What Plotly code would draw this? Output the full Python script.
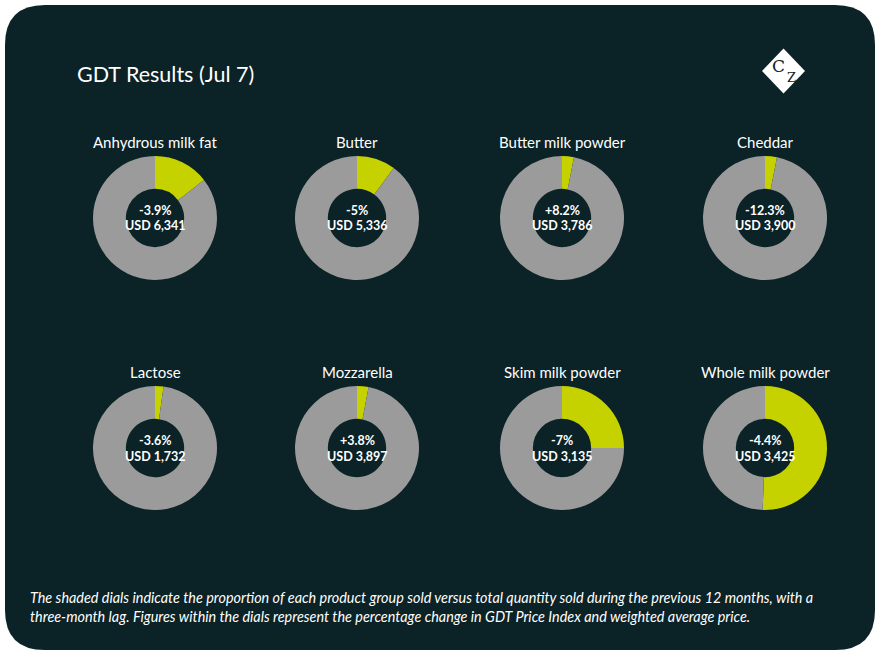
import plotly.graph_objects as go

W, H = 880, 655

# Données
products = [
    "Anhydrous milk fat", "Butter", "Butter milk powder", "Cheddar",
    "Lactose", "Mozzarella", "Skim milk powder", "Whole milk powder",
]
share_sold = [14.5, 10.1, 3.1, 3.1, 2.2, 3.0, 25.0, 50.6]  # % du volume vendu
price_change = [-3.9, -5, 8.2, -12.3, -3.6, 3.8, -7, -4.4]  # % GDT Price Index
avg_price = [6341, 5336, 3786, 3900, 1732, 3897, 3135, 3425]  # USD

BG = "#0b2226"
LIME = "#c5d200"
GREY = "#9b9b9b"
FONT = "Lato"

col_x = [155, 357, 562, 765]
row_y = [218, 448]
R = 62


def px_x(x):
    return x / W


def px_y(y):
    return 1 - y / H


def rounded_rect(x0, y0, x1, y1, r):
    # chemin en coordonnées papier
    rx, ry = r / W, r / H
    a, b, c, d = px_x(x0), px_y(y1), px_x(x1), px_y(y0)
    return (
        f"M {a + rx},{b} L {c - rx},{b} Q {c},{b} {c},{b + ry} "
        f"L {c},{d - ry} Q {c},{d} {c - rx},{d} "
        f"L {a + rx},{d} Q {a},{d} {a},{d - ry} "
        f"L {a},{b + ry} Q {a},{b} {a + rx},{b} Z"
    )


def note(x, y, text, size, color="white", family=FONT, xanchor="center", **kw):
    return dict(
        x=px_x(x), y=px_y(y), xref="paper", yref="paper",
        xanchor=xanchor, yanchor="middle", text=text, showarrow=False,
        font=dict(size=size, color=color, family=family), **kw,
    )


fig = go.Figure()
annotations = []

for i, name in enumerate(products):
    cx = col_x[i % 4]
    cy = row_y[i // 4]
    fig.add_trace(
        go.Pie(
            values=[share_sold[i], 100 - share_sold[i]],
            labels=["Share", "Other"],
            marker=dict(colors=[LIME, GREY], line=dict(width=0)),
            hole=0.47,
            sort=False,
            direction="clockwise",
            rotation=0,
            textinfo="none",
            hoverinfo="skip",
            showlegend=False,
            domain=dict(x=[px_x(cx - R), px_x(cx + R)], y=[px_y(cy + R), px_y(cy - R)]),
        )
    )
    annotations.append(note(cx, cy - 76, name, 15))
    annotations.append(note(cx, cy - 8, f"<b>{price_change[i]:+g}%</b>", 12.5))
    annotations.append(note(cx, cy + 8, f"<b>USD {avg_price[i]:,}</b>", 12.5))

annotations.append(note(75, 74, "GDT Results (Jul 7)", 21.5, xanchor="left"))
# logo CZ
annotations.append(note(778, 66, "C", 17, color=BG, family="DejaVu Serif"))
annotations.append(note(791, 78, "Z", 13, color=BG, family="DejaVu Serif"))
annotations.append(note(
    28, 607,
    "<i>The shaded dials indicate the proportion of each product group sold versus total quantity sold during the previous 12 months, with a<br>"
    "three-month lag. Figures within the dials represent the percentage change in GDT Price Index and weighted average price.</i>",
    14.4, xanchor="left", align="left",
))

shapes = [
    dict(type="path", xref="paper", yref="paper", path=rounded_rect(5, 5, 875, 650, 40),
         fillcolor=BG, line=dict(width=0), layer="below"),
    dict(type="path", xref="paper", yref="paper",
         path=f"M {px_x(783.5)},{px_y(48.5)} L {px_x(805)},{px_y(71)} L {px_x(783.5)},{px_y(93.5)} L {px_x(762)},{px_y(71)} Z",
         fillcolor="white", line=dict(width=0)),
]

fig.update_layout(
    width=W, height=H,
    margin=dict(l=0, r=0, t=0, b=0),
    paper_bgcolor="white",
    plot_bgcolor="white",
    annotations=annotations,
    shapes=shapes,
    showlegend=False,
)

fig.write_html(
    "out.html",
    config={"displayModeBar": False},
    post_script="document.body.style.margin='0';",
)
